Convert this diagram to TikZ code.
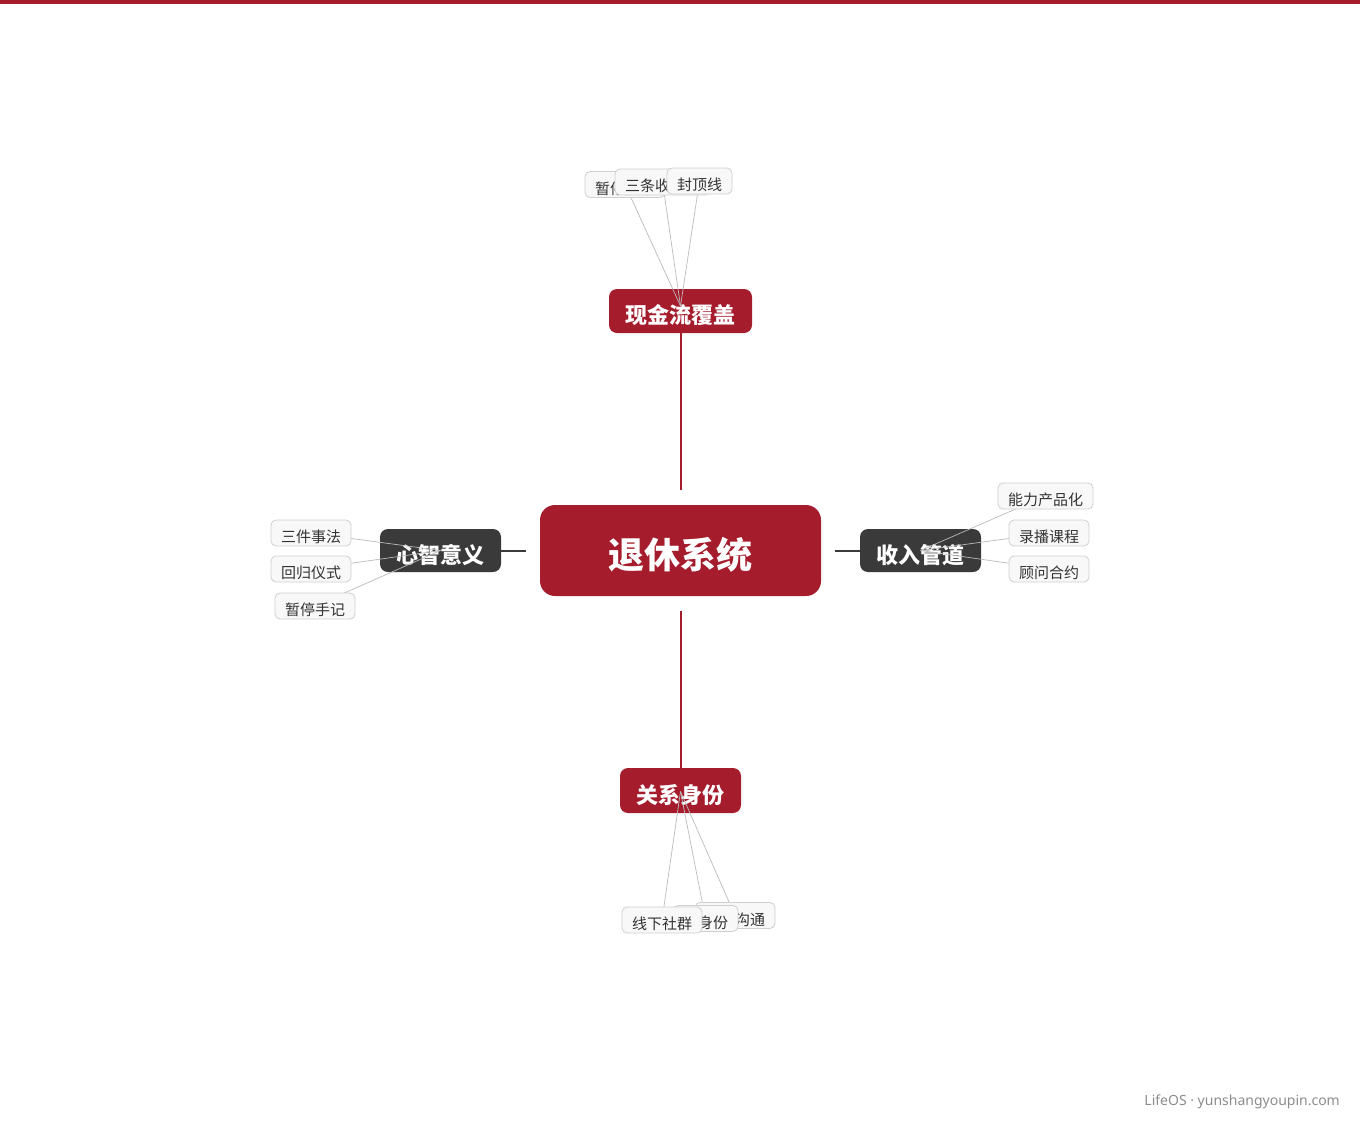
\documentclass[tikz,border=0pt]{standalone}
\usepackage{fontspec}
\setmainfont{Noto Sans CJK SC}
\newfontfamily\latinfont{Noto Sans}
\definecolor{lifered}{HTML}{A51C2C}
\definecolor{lifedark}{HTML}{3A3A3A}
\definecolor{leaffill}{HTML}{F8F8F8}
\definecolor{leafline}{HTML}{CFCFCF}
\definecolor{linkgray}{HTML}{BBBBBB}
\begin{document}
\begin{tikzpicture}[x=1pt, y=-1pt,
  rootbox/.style={fill=lifered, rounded corners=15pt, minimum width=281pt, minimum height=91pt,
    text=white, font=\fontsize{36}{40}\selectfont\bfseries, inner sep=0pt,
    text height=39.7pt, text depth=4.3pt},
  redbox/.style={fill=lifered, rounded corners=8pt, minimum height=44pt,
    text=white, font=\fontsize{22}{26}\selectfont\bfseries, inner sep=0pt,
    text height=28.4pt, text depth=2.6pt},
  darkbox/.style={redbox, fill=lifedark},
  leaf/.style={draw=leafline, fill=leaffill, rounded corners=5pt, minimum height=26pt,
    inner xsep=10pt, inner ysep=0pt, text=black!80, font=\fontsize{15}{17}\selectfont, line width=0.8pt,
    text height=21.2pt, text depth=1.8pt},
  link/.style={draw=linkgray, line width=0.7pt}]
\useasboundingbox (0,0) rectangle (1360,1120);
% Top bar
\fill[lifered] (0,0) rectangle (1360,4);

% Main nodes
\node[rootbox] (root) at (680.5,550.5) {退休系统};
\node[redbox, minimum width=143pt] (cash) at (680.5,311) {现金流覆盖};
\node[redbox, minimum width=121pt, minimum height=45pt] (role) at (680.5,790.5) {关系身份};
\node[darkbox, minimum width=121pt, minimum height=43pt] (mind) at (440.5,550.5) {心智意义};
\node[darkbox, minimum width=121pt, minimum height=43pt] (income) at (920.5,550.5) {收入管道};

% Branches
\coordinate (rootN) at (680.5,490);
\coordinate (rootS) at (680.5,611);
\coordinate (rootW) at (526,550.5);
\coordinate (rootE) at (835,550.5);
\draw[lifered, line width=2pt] (cash.south) -- (rootN);
\draw[lifered, line width=2pt] (rootS) -- (role.north);
\draw[lifedark, line width=2pt] (mind.east) -- (rootW);
\draw[lifedark, line width=2pt] (rootE) -- (income.west);

% Leaves
\coordinate (c1) at (625,184.5);
\coordinate (c2) at (662.5,182);
\coordinate (c3) at (699.5,181);
\coordinate (r1) at (735,915.5);
\coordinate (r2) at (705.5,918.5);
\coordinate (r3) at (662,920);
\coordinate (m1) at (311,533);
\coordinate (m2) at (311,569);
\coordinate (m3) at (315,606);
\coordinate (i1) at (1045.5,496);
\coordinate (i2) at (1049,533);
\coordinate (i3) at (1049,569);
\foreach \p in {c1,c2,c3} \draw[link] (\p) -- ([yshift=5pt]cash.center);
\foreach \p in {r1,r2,r3} \draw[link] (\p) -- ([yshift=-1pt]role.center);
\foreach \p in {m1,m2,m3} \draw[link] (\p) -- (mind.center);
\foreach \p in {i1,i2,i3} \draw[link] (\p) -- (income.center);

\node[leaf] (cashA) at (c1) {暂停预案};
\node[leaf] (cashB) at (c2) {三条收入线};
\node[leaf] (cashC) at (c3) {封顶线};
\node[leaf] (roleA) at (r1) {家庭沟通};
\node[leaf] (roleB) at (r2) {新身份};
\node[leaf] (roleC) at (r3) {线下社群};
\node[leaf] (mindA) at (m1) {三件事法};
\node[leaf] (mindB) at (m2) {回归仪式};
\node[leaf] (mindC) at (m3) {暂停手记};
\node[leaf] (incomeA) at (i1) {能力产品化};
\node[leaf] (incomeB) at (i2) {录播课程};
\node[leaf] (incomeC) at (i3) {顾问合约};

% Footer
\node[anchor=east, text=black!45, font=\latinfont\fontsize{14}{16}\selectfont, inner sep=0pt] (footer) at (1340,1102) {LifeOS · yunshangyoupin.com};
\end{tikzpicture}
\end{document}
